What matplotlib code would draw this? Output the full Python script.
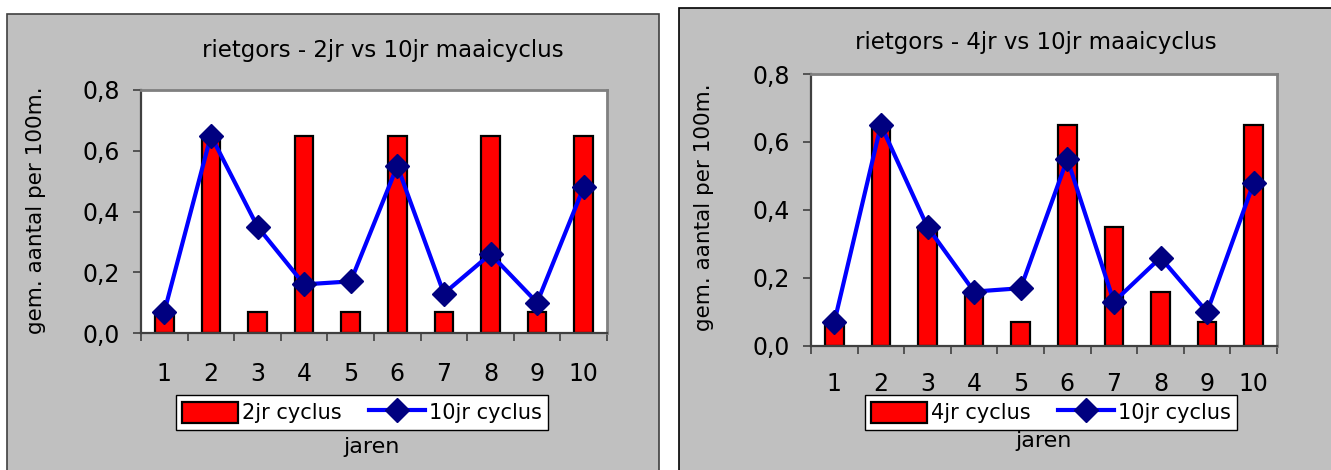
import matplotlib
matplotlib.use("Agg")
import matplotlib.pyplot as plt
from matplotlib.patches import Rectangle
from matplotlib.lines import Line2D

plt.rcParams['font.family'] = ['DejaVu Sans']

years = [1, 2, 3, 4, 5, 6, 7, 8, 9, 10]
bars_2jr = [0.07, 0.65, 0.07, 0.65, 0.07, 0.65, 0.07, 0.65, 0.07, 0.65]
bars_4jr = [0.07, 0.65, 0.35, 0.16, 0.07, 0.65, 0.35, 0.16, 0.07, 0.65]
line_10jr = [0.07, 0.65, 0.35, 0.16, 0.17, 0.55, 0.13, 0.26, 0.10, 0.48]
yticks = [0.0, 0.2, 0.4, 0.6, 0.8]
ytick_labels = ["0,0", "0,2", "0,4", "0,6", "0,8"]

W, H = 1331, 470
fig = plt.figure(figsize=(W / 100, H / 100), dpi=100)
fig.patch.set_facecolor('white')

def px_rect(x0, y0, x1, y1):
    # top-left pixel coords -> figure fraction [l, b, w, h]
    return [x0 / W, (H - y1) / H, (x1 - x0) / W, (y1 - y0) / H]

# panel backgrounds
for (x0, y0, x1, y1, ec) in [(7, 14, 659, 480, '#404040'), (679, 8, 1345, 480, 'black')]:
    l, b, w, h = px_rect(x0, y0, x1, y1)
    fig.patches.append(Rectangle((l, b), w, h, transform=fig.transFigure,
                                 facecolor='#C0C0C0', edgecolor=ec, linewidth=1.2, zorder=-10))

panels = [
    dict(ax=(141, 90, 607, 333), bars=bars_2jr, bar_label="2jr cyclus",
         title="rietgors - 2jr vs 10jr maaicyclus", title_xy=(383, 50),
         ylab_xy=(36, 210), xlab_xy=(372, 447), leg_xy=(362, 412.5), xpad=21),
    dict(ax=(811, 74, 1277, 346), bars=bars_4jr, bar_label="4jr cyclus",
         title="rietgors - 4jr vs 10jr maaicyclus", title_xy=(1036, 42),
         ylab_xy=(704, 207), xlab_xy=(1044, 441), leg_xy=(1051, 412.5), xpad=19),
]

for p in panels:
    ax = fig.add_axes(px_rect(*p['ax']))
    ax.set_zorder(1)
    ax.set_facecolor('white')
    ax.bar(years, p['bars'], width=0.4, color='#FF0000', edgecolor='black',
           linewidth=1.6, zorder=2)
    ax.plot(years, line_10jr, color='#0000FF', linewidth=3.0, marker='D',
            markersize=12.5, markerfacecolor='#000080', markeredgecolor='#000080',
            zorder=3, clip_on=False)
    ax.set_xlim(0.5, 10.5)
    ax.set_ylim(0, 0.8)
    ax.set_yticks(yticks)
    ax.set_yticklabels(ytick_labels, fontsize=17)
    ax.set_xticks(years)
    ax.set_xticklabels([str(y) for y in years], fontsize=17)
    ax.set_xticks([y + 0.5 for y in [0] + years], minor=True)
    ax.tick_params(axis='x', which='major', length=0, pad=p['xpad'])
    ax.tick_params(axis='x', which='minor', length=6, width=1.2, color='#404040', direction='out')
    ax.tick_params(axis='y', which='major', length=6, width=1.2, color='#404040', pad=9)
    for s in ['top', 'right']:
        ax.spines[s].set_color('#808080')
        ax.spines[s].set_linewidth(2)
    for s in ['left', 'bottom']:
        ax.spines[s].set_color('#404040')
        ax.spines[s].set_linewidth(1.6)

    fig.text(p['title_xy'][0] / W, 1 - p['title_xy'][1] / H, p['title'],
             ha='center', va='center', fontsize=16.5)
    fig.text(p['ylab_xy'][0] / W, 1 - p['ylab_xy'][1] / H, "gem. aantal per 100m.",
             ha='center', va='center', rotation=90, fontsize=15.5)
    fig.text(p['xlab_xy'][0] / W, 1 - p['xlab_xy'][1] / H, "jaren",
             ha='center', va='center', fontsize=16)

    h_bar = Rectangle((0, 0), 1, 1, facecolor='#FF0000', edgecolor='black', linewidth=1.6)
    h_line = Line2D([], [], color='#0000FF', linewidth=3.0, marker='D', markersize=12.5,
                    markerfacecolor='#000080', markeredgecolor='#000080')
    leg = fig.legend([h_bar, h_line], [p['bar_label'], "10jr cyclus"], ncol=2,
                     loc='center', bbox_to_anchor=(p['leg_xy'][0] / W, 1 - p['leg_xy'][1] / H),
                     fontsize=15, frameon=True, fancybox=False, handlelength=2.7,
                     handleheight=1.2, handletextpad=0.2, columnspacing=1.3,
                     borderpad=0.3, borderaxespad=0)
    leg.set_zorder(2)
    leg.get_frame().set_edgecolor('black')
    leg.get_frame().set_linewidth(1.0)
    leg.get_frame().set_facecolor('white')
    leg.get_frame().set_alpha(1)

fig.savefig("out.png", dpi=100)
